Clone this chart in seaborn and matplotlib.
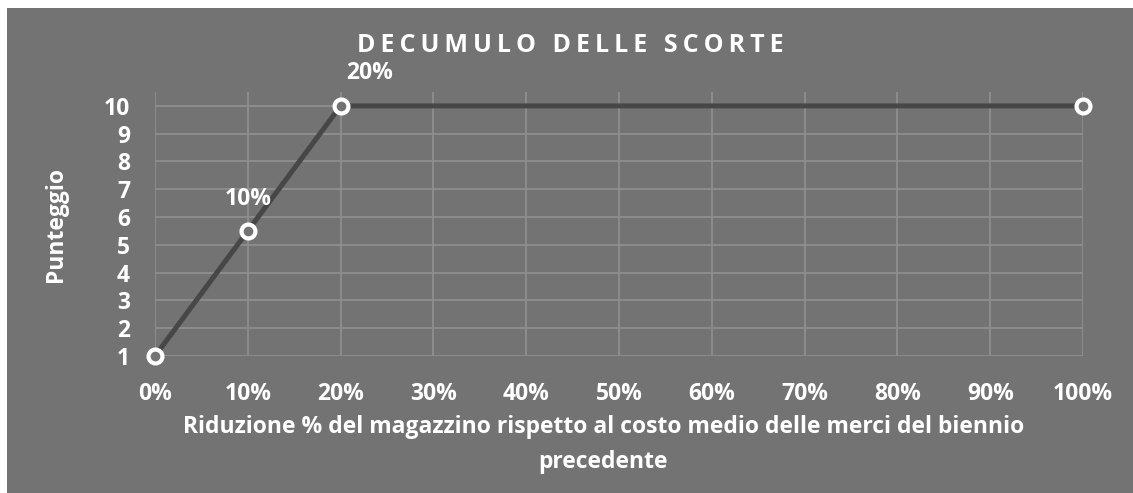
import matplotlib
matplotlib.use("Agg")
import matplotlib.pyplot as plt
import seaborn as sns
import pandas as pd
from matplotlib.patches import Rectangle

# categorie asse x (riduzione %)
x_labels = ['0%', '10%', '20%', '30%', '40%', '50%', '60%', '70%', '80%', '90%', '100%']
y_ticks = [1, 2, 3, 4, 5, 6, 7, 8, 9, 10]

# punti della curva
point_labels = ['0%', '10%', '20%', '100%']
scores = [1, 5.5, 10, 10]

# etichette dati mostrate sul grafico
shown_labels = ['10%', '20%']

title = 'DECUMULO DELLE SCORTE'

bg = '#737373'
grid_c = '#8e8e8e'
line_c = '#474747'
fs = 16.5

sns.set_theme(style='white')
plt.rcParams['font.family'] = ['Open Sans', 'DejaVu Sans']

df = pd.DataFrame({'pos': [x_labels.index(p) for p in point_labels],
                   'score': scores})

fig = plt.figure(figsize=(11.33, 4.93), dpi=100, facecolor='white')
fig.patches.append(Rectangle((7 / 1133, 0), 1 - 7 / 1133, 1 - 8 / 493,
                             transform=fig.transFigure, facecolor=bg,
                             edgecolor='none', zorder=-10))
ax = fig.add_axes([155 / 1133, 137 / 493, 928 / 1133, 264 / 493])
ax.set_facecolor(bg)

sns.lineplot(data=df, x='pos', y='score', ax=ax, color=line_c, linewidth=3.6,
             marker='o', markersize=10, markerfacecolor=bg,
             markeredgecolor='white', markeredgewidth=3, clip_on=False)

ax.set_xlim(0, len(x_labels) - 1)
ax.set_ylim(1, 10.5)
ax.set_xticks(range(len(x_labels)))
ax.set_xticklabels(x_labels)
ax.set_yticks(y_ticks)

ax.grid(True, color=grid_c, linewidth=1.3)
ax.set_axisbelow(True)
for s in ax.spines.values():
    s.set_visible(False)

ax.tick_params(axis='both', length=0, colors='white', labelsize=fs)
ax.tick_params(axis='x', pad=18.5)
ax.tick_params(axis='y', pad=18)
for t in ax.get_xticklabels() + ax.get_yticklabels():
    t.set_fontweight('bold')

# la seconda etichetta è spostata a destra come nel grafico originale
offsets = {'10%': (0, 23), '20%': (21, 24)}
for lab in shown_labels:
    i = point_labels.index(lab)
    ax.annotate(lab, (df['pos'][i], df['score'][i]), xytext=offsets[lab],
                textcoords='offset points', ha='center', va='center',
                color='white', fontsize=fs, fontweight='bold')

ax.set_xlabel('Riduzione % del magazzino rispetto al costo medio delle merci del biennio\nprecedente',
              color='white', fontsize=fs, fontweight='bold', linespacing=1.6)
ax.xaxis.set_label_coords(0.483, -0.225)
ax.xaxis.label.set_va('top')
ax.set_ylabel('Punteggio', color='white', fontsize=fs, fontweight='bold', labelpad=26)

# titolo con spaziatura tra le lettere
spaced = '\u2009 \u2009'.join('\u2009'.join(w) for w in title.split(' '))
fig.text(570 / 1133, 1 - 45 / 493, spaced, ha='center', va='center',
         color='white', fontsize=18, fontweight='bold')

fig.savefig('out.png', dpi=100, facecolor='white')
